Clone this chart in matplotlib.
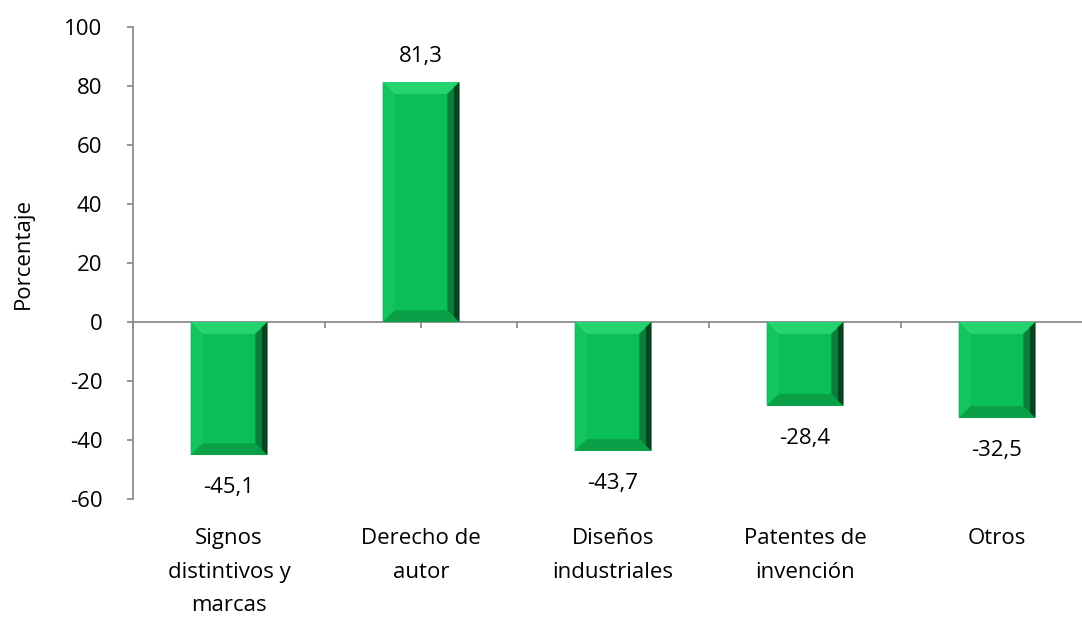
import matplotlib.pyplot as plt
from matplotlib.patches import Polygon

plt.rcParams['font.family'] = ['Open Sans', 'DejaVu Sans']
plt.rcParams['axes.unicode_minus'] = False

categorias = ['Signos\ndistintivos y\nmarcas', 'Derecho de\nautor', 'Diseños\nindustriales',
              'Patentes de\ninvención', 'Otros']
valores = [-45.1, 81.3, -43.7, -28.4, -32.5]
etiquetas = ['-45,1', '81,3', '-43,7', '-28,4', '-32,5']

fig = plt.figure(figsize=(10.82, 6.17), dpi=100)
ax = fig.add_axes([133 / 1082, 1 - 499 / 617, 960 / 1082, 472 / 617])

fs = 16
ancho = 0.40
bx = 0.063   # bevel in x (data units)
by = 4.0     # bevel in y (data units)
c_main = '#0abf55'
c_top = '#25d46c'
c_left = '#14c45c'
c_right = '#07803a'
c_bot = '#0aa048'

for i, v in enumerate(valores):
    x0, x1 = i - ancho / 2, i + ancho / 2
    y0, y1 = min(0, v), max(0, v)
    ax.add_patch(Polygon([(x0, y0), (x1, y0), (x1, y1), (x0, y1)], closed=True,
                         facecolor=c_main, edgecolor='none', zorder=2))
    # top bevel
    ax.add_patch(Polygon([(x0, y1), (x1, y1), (x1 - bx, y1 - by), (x0 + bx, y1 - by)],
                         facecolor=c_top, edgecolor='none', zorder=3))
    # bottom bevel
    ax.add_patch(Polygon([(x0, y0), (x1, y0), (x1 - bx, y0 + by), (x0 + bx, y0 + by)],
                         facecolor=c_bot, edgecolor='none', zorder=3))
    # left bevel
    ax.add_patch(Polygon([(x0, y0), (x0 + bx, y0 + by), (x0 + bx, y1 - by), (x0, y1)],
                         facecolor=c_left, edgecolor='none', zorder=3))
    # right bevel
    ax.add_patch(Polygon([(x1, y0), (x1 - bx, y0 + by), (x1 - bx, y1 - by), (x1, y1)],
                         facecolor=c_right, edgecolor='none', zorder=3))
    ax.add_patch(Polygon([(x1, y0), (x1 - bx * 0.45, y0 + by * 0.45),
                          (x1 - bx * 0.45, y1 - by * 0.45), (x1, y1)],
                         facecolor='#03451f', edgecolor='none', zorder=3))
    if v >= 0:
        ax.annotate(etiquetas[i], (i, v), xytext=(0, 11), textcoords='offset points',
                    ha='center', va='bottom', fontsize=fs)
    else:
        ax.annotate(etiquetas[i], (i, v), xytext=(0, -16), textcoords='offset points',
                    ha='center', va='top', fontsize=fs)

ax.set_xlim(-0.5, 4.5)
ax.set_ylim(-60, 100)
ax.set_yticks(range(-60, 101, 20))

gris = '#8c8c8c'
for s in ['top', 'right']:
    ax.spines[s].set_visible(False)
ax.spines['left'].set_color(gris)
ax.spines['bottom'].set_color(gris)
ax.spines['bottom'].set_position(('data', 0))
ax.spines['bottom'].set_zorder(1)
ax.spines['left'].set_linewidth(1.3)
ax.spines['bottom'].set_linewidth(1.3)

ax.set_xticks(range(len(valores)))
ax.set_xticks([i - 0.5 for i in range(len(valores) + 1)], minor=True)
ax.tick_params(axis='x', which='both', direction='out', length=4, color=gris,
               width=1.3, labelbottom=False)
ax.tick_params(axis='y', direction='out', length=4, color=gris, width=1.3,
               labelsize=fs, pad=18)

for i, cat in enumerate(categorias):
    ax.annotate(cat, (i, -60), xytext=(0, -21), textcoords='offset points',
                ha='center', va='top', fontsize=fs, linespacing=1.78)

ax.set_ylabel('Porcentaje', fontsize=fs)
ax.yaxis.set_label_coords(-0.103, 0.52)

fig.savefig('out.png', dpi=100)
